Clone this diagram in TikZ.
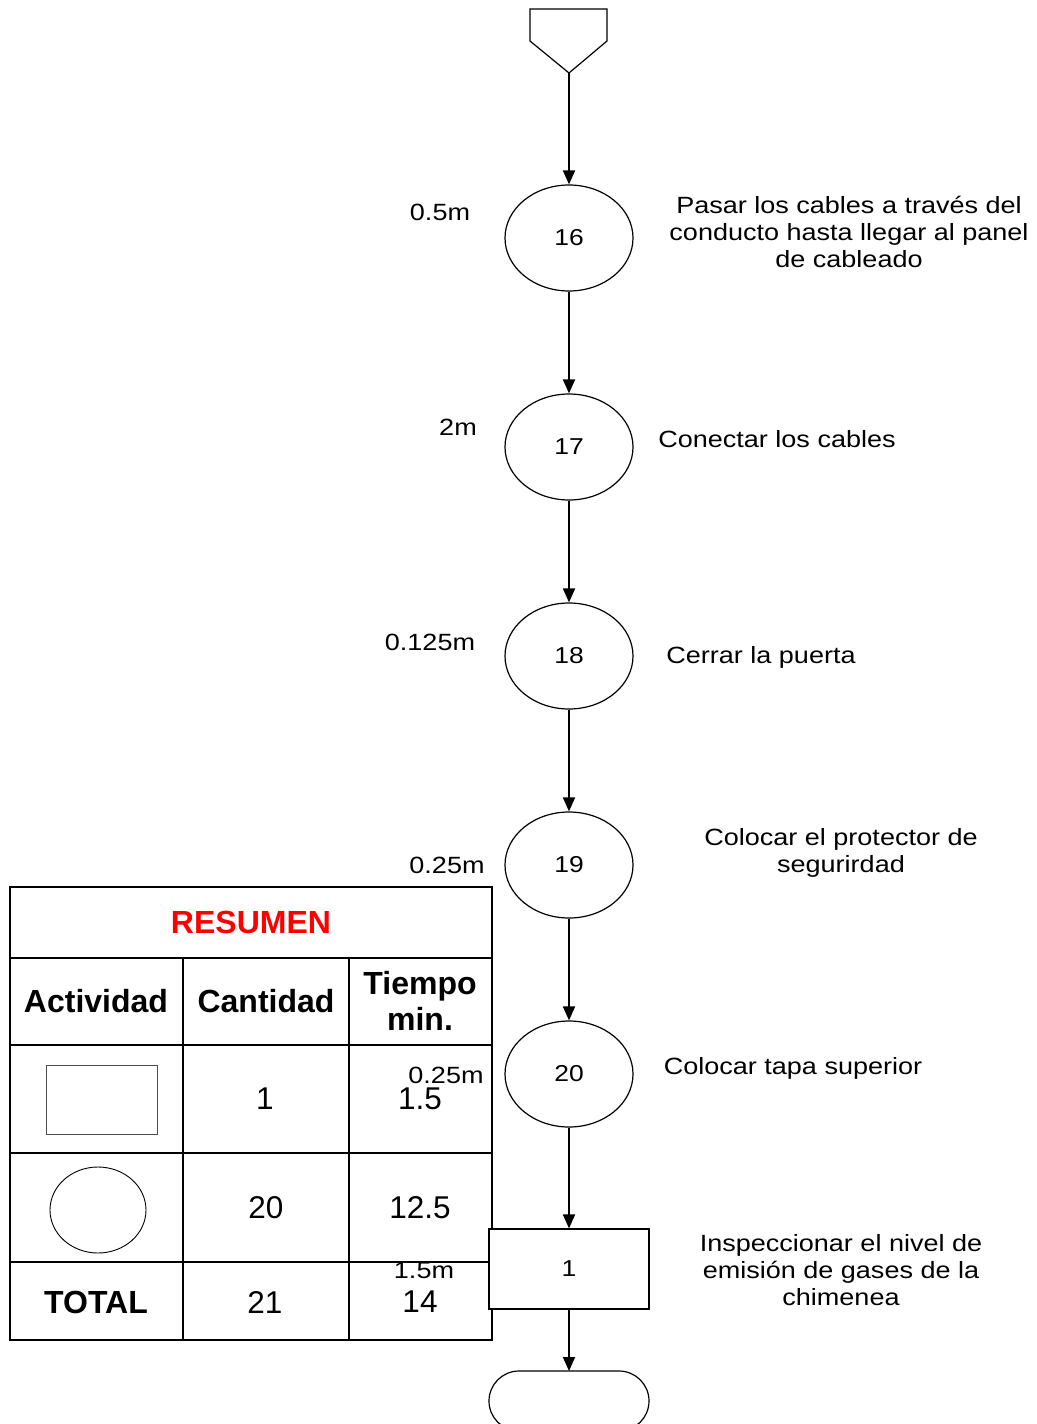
\documentclass[tikz,border=0pt]{standalone}
\usepackage{fontspec}
\setmainfont{Liberation Sans}
\newfontfamily\widesans[FakeStretch=1.15]{Liberation Sans}
\usetikzlibrary{arrows.meta,shapes.geometric}

\begin{document}
\begin{tikzpicture}[x=1pt,y=-1pt,
  flow/.style={line width=1.8pt,-{Triangle[length=14pt,width=12pt]}},
  opcircle/.style={draw,ellipse,line width=1.2pt,minimum width=128pt,minimum height=106pt,inner sep=0pt,
    font=\widesans\fontsize{23}{27}\selectfont},
  inspbox/.style={draw,fill=white,line width=1.2pt,minimum width=160pt,minimum height=80pt,inner sep=0pt,
    font=\widesans\fontsize{23}{27}\selectfont},
  desc/.style={align=center,inner sep=0pt,font=\widesans\fontsize{23.5}{27}\selectfont},
  dist/.style={inner sep=0pt,font=\widesans\fontsize{23.5}{27}\selectfont},
  cell/.style={inner sep=0pt,font=\fontsize{31.5}{36}\selectfont},
  cellbold/.style={inner sep=0pt,align=center,font=\bfseries\fontsize{32}{36}\selectfont},
  grid/.style={line width=2.4pt}]

\clip (0,0) rectangle (1036,1424);
\fill[white] (0,0) rectangle (1036,1424);

% start symbol
\draw[line width=1.2pt,line join=miter] (530,9) -- (607,9) -- (607,41) -- (569,73) -- (530,41) -- cycle;
\coordinate (start) at (569,73);

% distance labels
\node[dist] (d16) at (440,212) {0.5m};
\node[dist] (d17) at (458,427) {2m};
\node[dist] (d18) at (430,642) {0.125m};
\node[dist] (d19) at (447,865) {0.25m};
\node[dist] (d20) at (446,1075) {0.25m};
\node[dist] (d21) at (424,1271) {1.5m};

% summary table
\draw[grid] (10,887) rectangle (492,1340);
\draw[grid] (10,958) -- (492,958);
\draw[grid] (10,1045) -- (492,1045);
\draw[grid] (10,1153) -- (492,1153);
\draw[grid] (10,1262) -- (492,1262);
\draw[grid] (183,958) -- (183,1340);
\draw[grid] (349,958) -- (349,1340);

\node[cellbold,text=red] (tres) at (251,922) {RESUMEN};
\node[cellbold] (tact) at (96,1001) {Actividad};
\node[cellbold] (tcan) at (266,1001) {Cantidad};
\node[cellbold] (ttie) at (420,1001) {Tiempo\\min.};

\node[draw=black!70,line width=0.9pt,minimum width=111pt,minimum height=69pt,inner sep=0pt] (symbox) at (101.5,1099.5) {};
\node[cell] (n1) at (265,1099) {1};
\node[cell] (t1) at (420,1099) {1.5};

\node[draw,ellipse,line width=0.9pt,minimum width=96pt,minimum height=86pt,inner sep=0pt] (symcirc) at (98,1210) {};
\node[cell] (n2) at (266,1208) {20};
\node[cell] (t2) at (420,1208) {12.5};

\node[cellbold] (ttot) at (96,1302) {TOTAL};
\node[cell] (n3) at (265,1302) {21};
\node[cell] (t3) at (420,1302) {14};

% process chart
\node[opcircle] (o16) at (569,238) {16};
\node[opcircle] (o17) at (569,447) {17};
\node[opcircle] (o18) at (569,656) {18};
\node[opcircle] (o19) at (569,865) {19};
\node[opcircle] (o20) at (569,1074) {20};
\node[inspbox] (i1) at (569,1269) {1};
\draw[line width=1.2pt,rounded corners=30pt] (489,1431) rectangle (649,1371);
\coordinate (endtop) at (569,1371);

\draw[flow] (start) -- (o16);
\draw[flow] (o16) -- (o17);
\draw[flow] (o17) -- (o18);
\draw[flow] (o18) -- (o19);
\draw[flow] (o19) -- (o20);
\draw[flow] (o20) -- (i1);
\draw[flow] (i1) -- (endtop);

% descriptions
\node[desc] (e16) at (849,232) {Pasar los cables a través del\\conducto hasta llegar al panel\\de cableado};
\node[desc] (e17) at (777,439) {Conectar los cables};
\node[desc] (e18) at (761,657) {Cerrar la puerta};
\node[desc] (e19) at (841,852.5) {Colocar el protector de\\segurirdad};
\node[desc] (e20) at (793,1068) {Colocar tapa superior};
\node[desc] (e21) at (841,1270) {Inspeccionar el nivel de\\emisión de gases de la\\chimenea};
\end{tikzpicture}
\end{document}
